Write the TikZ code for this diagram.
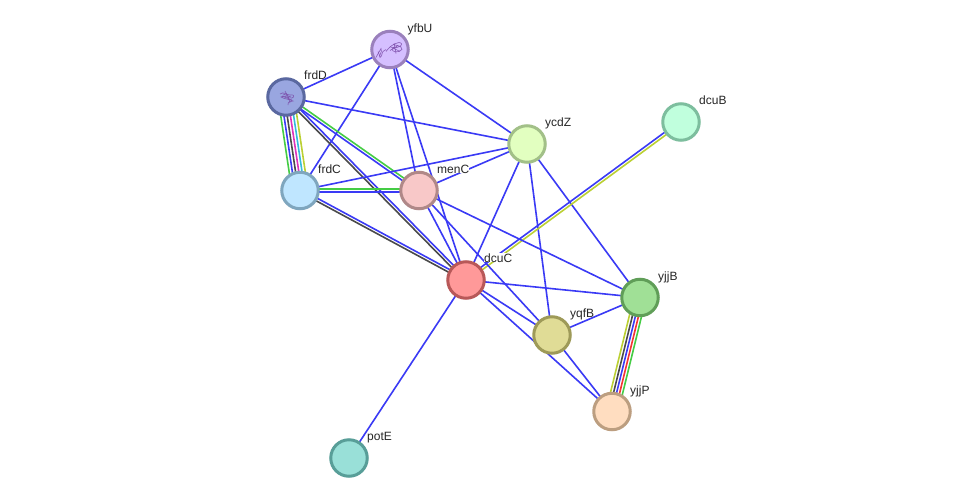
\documentclass[tikz,border=0pt]{standalone}
\usepackage{fontspec}
\setmainfont{Liberation Sans}
\usetikzlibrary{calc,backgrounds}
\definecolor{lnblue}{HTML}{3A3AF5}
\definecolor{lngreen}{HTML}{44CC44}
\definecolor{lnyellow}{HTML}{BBD033}
\definecolor{lnblack}{HTML}{4A4A4A}
\definecolor{lnmagenta}{HTML}{DD33BB}
\definecolor{lncyan}{HTML}{33BBDD}
\definecolor{lnred}{HTML}{F53333}
\definecolor{coil}{HTML}{7A4AA8}
% Fill and rim of each protein
\definecolor{fyfbU}{HTML}{D5BFFF}\definecolor{ryfbU}{HTML}{9A80BC}
\definecolor{ffrdD}{HTML}{99A6E0}\definecolor{rfrdD}{HTML}{5A68A0}
\definecolor{fycdZ}{HTML}{E2FFC0}\definecolor{rycdZ}{HTML}{A2C088}
\definecolor{fdcuB}{HTML}{C0FFDD}\definecolor{rdcuB}{HTML}{7DBE9E}
\definecolor{ffrdC}{HTML}{BFE6FF}\definecolor{rfrdC}{HTML}{7FA6BE}
\definecolor{fmenC}{HTML}{F8C8C8}\definecolor{rmenC}{HTML}{B08888}
\definecolor{fdcuC}{HTML}{FF9999}\definecolor{rdcuC}{HTML}{B85858}
\definecolor{fyjjB}{HTML}{A0E096}\definecolor{ryjjB}{HTML}{609E58}
\definecolor{fyqfB}{HTML}{E0DC96}\definecolor{ryqfB}{HTML}{9E9A58}
\definecolor{fyjjP}{HTML}{FFDDC0}\definecolor{ryjjP}{HTML}{BC9E80}
\definecolor{fpotE}{HTML}{99E0D8}\definecolor{rpotE}{HTML}{589E98}
\tikzset{
  protein/.style={circle,draw=r#1,fill=f#1,line width=3pt,minimum size=36.5pt,inner sep=0pt},
  tag/.style={anchor=base west,font=\fontsize{12}{14}\selectfont,text=black!85,inner sep=0pt},
  masked/.style={fill=white},
  link/.style={line width=1.6pt},
  coilline/.style={draw=coil,line width=0.6pt,opacity=0.85}
}
% Parallel strands between two proteins: each item is offset/colour
\newcommand{\strands}[3]{%
  \foreach \off/\col in {#3}{%
    \draw[link,\col] ($(#1)!\off pt!90:(#2)$) -- ($(#2)!\off pt!-90:(#1)$);
  }%
}
\begin{document}
\begin{tikzpicture}[x=1pt,y=-1pt]
\useasboundingbox (0,0) rectangle (976,503);

\node[protein=yfbU] (yfbU) at (390,49.5) {};
\node[protein=frdD] (frdD) at (286,97) {};
\node[protein=ycdZ] (ycdZ) at (527,144) {};
\node[protein=dcuB] (dcuB) at (681,122) {};
\node[protein=frdC] (frdC) at (300,190.5) {};
\node[protein=menC] (menC) at (419,190.5) {};
\node[protein=dcuC] (dcuC) at (466,280) {};
\node[protein=yjjB] (yjjB) at (640,297.5) {};
\node[protein=yqfB] (yqfB) at (552,335) {};
\node[protein=yjjP] (yjjP) at (612,411.5) {};
\node[protein=potE] (potE) at (349,458) {};

% Small structure sketches inside the two modelled proteins
\begin{scope}[shift={(287,97)}]
  \draw[coilline] (-7,-3) .. controls (-3,-6) and (-1,-2) .. (3,-2) .. controls (7,-3) and (8,0) .. (5,1)
     .. controls (1,2) and (-3,-3) .. (-6,0) .. controls (-3,2) and (2,2) .. (6,4) .. controls (3,6) and (1,3) .. (1,8);
  \draw[coilline] (-4,-3) -- (4,0) (-2,-6) .. controls (0,-2) and (2,1) .. (3,6) (-5,-1) -- (5,3);
\end{scope}
\begin{scope}[shift={(390,49.5)}]
  \draw[coilline] (-14,8) .. controls (-12,4) and (-10,1) .. (-9,-1) .. controls (-7,3) and (-12,6) .. (-10,8)
     .. controls (-8,7) and (-8,3) .. (-7,2) -- (-4,0);
  \draw[coilline] (-4,2) .. controls (-1,-2) and (3,-6) .. (9,-7) .. controls (15,-6) and (10,-1) .. (3,-2)
     .. controls (0,3) and (8,4) .. (12,0) .. controls (12,-4) and (6,-4) .. (3,-5);
  \draw[coilline] (0,-3) -- (10,2) (4,-6) -- (6,4) (-12,2) -- (-10,7) (0,1) -- (8,-4);
\end{scope}

\node[tag] (tyfbU) at (407.5,32.5) {yfbU};
\node[tag] (tfrdD) at (304,79) {frdD};
\node[tag] (tycdZ) at (545,126) {ycdZ};
\node[tag] (tdcuB) at (699,104) {dcuB};
\node[tag] (tfrdC) at (318,173) {frdC};
\node[tag,masked] (tmenC) at (437,173) {menC};
\node[tag,masked] (tdcuC) at (484,262) {dcuC};
\node[tag] (tyjjB) at (658,280) {yjjB};
\node[tag] (tyqfB) at (570,317) {yqfB};
\node[tag] (tyjjP) at (630,394) {yjjP};
\node[tag] (tpotE) at (367,440) {potE};

\begin{scope}[on background layer]
  \fill[white] (0,0) rectangle (976,503);
  \strands{frdD}{yfbU}{0/lnblue}
  \strands{frdC}{yfbU}{0/lnblue}
  \strands{yfbU}{ycdZ}{0/lnblue}
  \strands{yfbU}{menC}{0/lnblue}
  \strands{yfbU}{dcuC}{0/lnblue}
  \strands{frdD}{ycdZ}{0/lnblue}
  \strands{frdD}{frdC}{-8/lngreen,-4.8/lnblue,-1.6/lnblack,1.6/lnmagenta,4.8/lncyan,8/lnyellow}
  \strands{frdD}{menC}{1.4/lngreen,-1.4/lnblue}
  \strands{frdD}{dcuC}{1.4/lnblue,-1.4/lnblack}
  \strands{frdC}{ycdZ}{0/lnblue}
  \strands{frdC}{menC}{1.4/lngreen,-1.4/lnblue}
  \strands{frdC}{dcuC}{1.4/lnblue,-1.4/lnblack}
  \strands{menC}{ycdZ}{0/lnblue}
  \strands{ycdZ}{dcuC}{0/lnblue}
  \strands{ycdZ}{yqfB}{0/lnblue}
  \strands{ycdZ}{yjjB}{0/lnblue}
  \strands{dcuB}{dcuC}{1.4/lnyellow,-1.4/lnblue}
  \strands{menC}{dcuC}{0/lnblue}
  \strands{menC}{yqfB}{0/lnblue}
  \strands{menC}{yjjB}{0/lnblue}
  \strands{dcuC}{yjjB}{0/lnblue}
  \strands{dcuC}{yqfB}{0/lnblue}
  \strands{dcuC}{yjjP}{0/lnblue}
  \strands{dcuC}{potE}{0/lnblue}
  \strands{yqfB}{yjjB}{0/lnblue}
  \strands{yqfB}{yjjP}{0/lnblue}
  \strands{yjjB}{yjjP}{-6/lnyellow,-3/lnblack,0/lnblue,3/lnred,6/lngreen}
\end{scope}
\end{tikzpicture}
\end{document}
